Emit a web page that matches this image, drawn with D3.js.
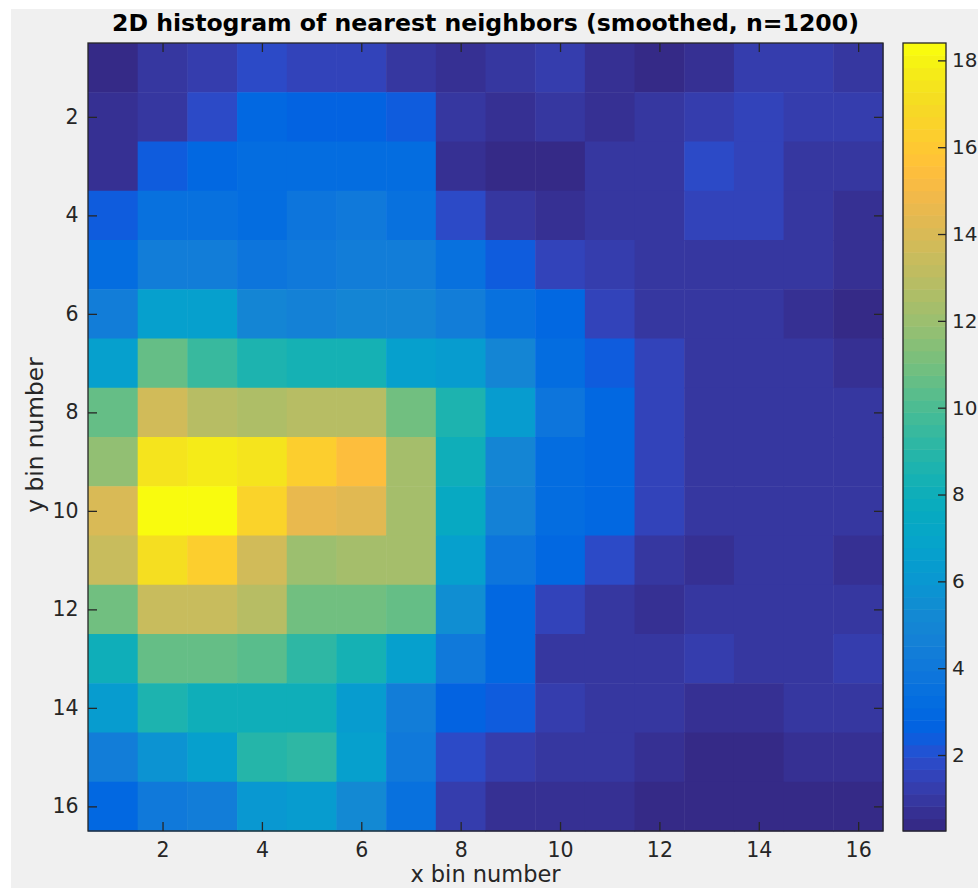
<!DOCTYPE html>
<html>
<head>
<meta charset="utf-8">
<script src="https://cdn.jsdelivr.net/npm/d3@7"></script>
<style>
  html, body { margin: 0; padding: 0; background: #ffffff; }
  svg { display: block; }
  text { font-family: "DejaVu Sans", sans-serif; }
</style>
</head>
<body>
<svg id="chart" width="978" height="888"></svg>
<script>
// Bin indices along each axis
const xBins = d3.range(1, 17);
const yBins = d3.range(1, 17);

// Smoothed neighbour counts, one array per y bin (row 1 at the top)
const row01 = [0.5, 0.9, 1.3, 1.9, 1.6, 1.4, 1.1, 0.8, 0.85, 1.3, 0.7, 0.4, 0.6, 1.2, 1.2, 0.9];
const row02 = [0.6, 1.1, 1.9, 3.0, 2.7, 2.7, 2.4, 0.9, 0.6, 1.0, 0.6, 1.0, 1.25, 1.5, 1.2, 1.2];
const row03 = [0.8, 2.4, 3.0, 3.1, 3.2, 3.2, 3.1, 0.8, 0.35, 0.35, 0.85, 1.0, 1.7, 1.4, 0.9, 1.0];
const row04 = [2.4, 3.4, 3.4, 3.1, 3.7, 4.0, 3.6, 1.9, 1.0, 0.7, 0.85, 0.85, 1.4, 1.4, 1.0, 0.75];
const row05 = [3.3, 4.5, 4.5, 3.8, 4.1, 4.3, 4.3, 3.5, 2.4, 1.6, 1.35, 0.85, 0.85, 0.85, 0.9, 0.8];
const row06 = [4.5, 6.5, 6.5, 5.0, 4.6, 4.9, 4.9, 4.4, 3.6, 3.0, 1.6, 1.05, 0.9, 0.9, 0.6, 0.35];
const row07 = [6.5, 10.5, 9.6, 8.5, 8.3, 8.3, 6.7, 6.3, 4.9, 3.3, 2.4, 1.4, 1.05, 0.9, 0.9, 0.7];
const row08 = [10.5, 13.6, 13.0, 12.6, 13.0, 13.0, 11.0, 8.6, 6.3, 3.7, 2.9, 1.5, 0.9, 0.9, 1.05, 0.9];
const row09 = [11.7, 17.4, 17.8, 17.4, 16.3, 15.3, 12.4, 8.0, 4.9, 3.1, 2.9, 1.5, 0.9, 0.9, 0.9, 0.9];
const row10 = [14.1, 18.4, 18.4, 16.6, 14.5, 14.2, 12.3, 7.4, 4.6, 3.1, 2.9, 1.5, 1.05, 0.85, 1.1, 0.95];
const row11 = [13.5, 17.1, 16.3, 13.7, 12.0, 12.4, 12.4, 6.6, 3.7, 3.0, 1.9, 0.9, 0.55, 0.85, 0.85, 0.7];
const row12 = [11.0, 13.4, 13.4, 12.8, 11.0, 10.8, 10.6, 5.6, 3.0, 1.6, 0.85, 0.6, 0.9, 0.9, 0.9, 0.9];
const row13 = [8.0, 10.7, 10.7, 10.4, 9.1, 8.4, 6.7, 4.2, 3.0, 1.1, 0.85, 0.85, 1.3, 0.9, 0.9, 1.25];
const row14 = [6.3, 8.7, 8.0, 8.0, 8.0, 6.3, 4.3, 2.8, 2.4, 1.2, 1.05, 0.9, 0.6, 0.6, 1.0, 1.0];
const row15 = [4.4, 5.9, 6.5, 9.0, 9.2, 6.5, 4.0, 1.9, 1.35, 1.05, 1.05, 0.7, 0.35, 0.35, 0.7, 0.7];
const row16 = [3.0, 4.0, 4.3, 6.0, 6.4, 5.1, 3.5, 1.2, 0.8, 0.8, 0.6, 0.4, 0.4, 0.4, 0.35, 0.35];
const counts = [row01, row02, row03, row04, row05, row06, row07, row08,
                row09, row10, row11, row12, row13, row14, row15, row16];

// Colour limits and tick labels
const colorLimits = [0.25, 18.4];
const axisTicks = [2, 4, 6, 8, 10, 12, 14, 16];
const colorbarTicks = [2, 4, 6, 8, 10, 12, 14, 16, 18];

const titleText = "2D histogram of nearest neighbors (smoothed, n=1200)";
const xLabelText = "x bin number";
const yLabelText = "y bin number";

// 64-level parula colormap
const parula = [
  [0.2081,0.1663,0.5292],[0.2116,0.1898,0.5777],[0.2123,0.2138,0.6270],[0.2081,0.2386,0.6771],
  [0.1959,0.2645,0.7279],[0.1707,0.2919,0.7792],[0.1253,0.3242,0.8303],[0.0591,0.3598,0.8683],
  [0.0117,0.3875,0.8820],[0.0060,0.4086,0.8828],[0.0165,0.4266,0.8786],[0.0329,0.4430,0.8720],
  [0.0498,0.4586,0.8641],[0.0629,0.4737,0.8554],[0.0723,0.4887,0.8467],[0.0779,0.5040,0.8384],
  [0.0793,0.5200,0.8312],[0.0749,0.5375,0.8263],[0.0641,0.5570,0.8240],[0.0488,0.5772,0.8228],
  [0.0343,0.5966,0.8199],[0.0265,0.6137,0.8135],[0.0239,0.6287,0.8038],[0.0231,0.6418,0.7913],
  [0.0228,0.6535,0.7768],[0.0267,0.6642,0.7607],[0.0384,0.6743,0.7436],[0.0590,0.6838,0.7254],
  [0.0843,0.6928,0.7062],[0.1133,0.7015,0.6859],[0.1453,0.7098,0.6646],[0.1801,0.7177,0.6424],
  [0.2178,0.7250,0.6193],[0.2586,0.7317,0.5954],[0.3022,0.7376,0.5712],[0.3482,0.7424,0.5473],
  [0.3953,0.7459,0.5244],[0.4420,0.7481,0.5033],[0.4871,0.7491,0.4840],[0.5300,0.7491,0.4661],
  [0.5709,0.7485,0.4494],[0.6099,0.7473,0.4337],[0.6473,0.7456,0.4188],[0.6834,0.7435,0.4044],
  [0.7184,0.7411,0.3905],[0.7525,0.7384,0.3768],[0.7858,0.7356,0.3633],[0.8185,0.7327,0.3498],
  [0.8507,0.7299,0.3360],[0.8824,0.7274,0.3217],[0.9139,0.7258,0.3063],[0.9450,0.7261,0.2886],
  [0.9739,0.7314,0.2666],[0.9938,0.7455,0.2403],[0.9990,0.7653,0.2164],[0.9955,0.7861,0.1967],
  [0.9880,0.8066,0.1794],[0.9789,0.8271,0.1633],[0.9697,0.8481,0.1475],[0.9626,0.8705,0.1309],
  [0.9589,0.8949,0.1132],[0.9598,0.9218,0.0948],[0.9661,0.9514,0.0755],[0.9763,0.9831,0.0538]
].map(c => d3.rgb(c[0] * 255, c[1] * 255, c[2] * 255).formatHex());

// Layout
const W = 978, H = 888;
const plot = { left: 88, right: 883, top: 43, bottom: 831 };
const cbar = { left: 903, right: 946, top: 43, bottom: 831 };
const ink = "#262626";

const svg = d3.select("#chart");

// Figure background
svg.append("rect").attr("x", 0).attr("y", 0).attr("width", W).attr("height", H).attr("fill", "#ffffff");
svg.append("rect").attr("x", 11).attr("y", 9).attr("width", W - 11).attr("height", H - 9).attr("fill", "#f0f0f0");

const x = d3.scaleLinear().domain([0.5, 16.5]).range([plot.left, plot.right]);
const y = d3.scaleLinear().domain([0.5, 16.5]).range([plot.top, plot.bottom]);
const color = d3.scaleQuantize().domain(colorLimits).range(parula);
const colorOf = v => color(Math.max(colorLimits[0], Math.min(colorLimits[1], v)));

// Heatmap cells
const cells = [];
yBins.forEach((yb, r) => xBins.forEach((xb, c) => cells.push({ xb, yb, v: counts[r][c] })));

svg.append("g")
  .selectAll("rect")
  .data(cells)
  .join("rect")
  .attr("x", d => x(d.xb - 0.5))
  .attr("y", d => y(d.yb - 0.5))
  .attr("width", d => x(d.xb + 0.5) - x(d.xb - 0.5) + 0.5)
  .attr("height", d => y(d.yb + 0.5) - y(d.yb - 0.5) + 0.5)
  .attr("fill", d => colorOf(d.v));

// Axes with inward ticks on all four sides
function styleAxis(g, fontSize) {
  g.select(".domain").remove();
  g.selectAll(".tick line").attr("stroke", ink).attr("stroke-width", 1.3);
  g.selectAll(".tick text").attr("fill", ink).style("font-size", fontSize + "px")
    .style("font-family", "DejaVu Sans, sans-serif");
}

svg.append("g")
  .attr("transform", `translate(0,${plot.bottom})`)
  .call(d3.axisBottom(x).tickValues(axisTicks).tickSizeInner(-9).tickSizeOuter(0).tickPadding(11))
  .call(g => styleAxis(g, 20.5));

svg.append("g")
  .attr("transform", `translate(0,${plot.top})`)
  .call(d3.axisTop(x).tickValues(axisTicks).tickSizeInner(-9).tickSizeOuter(0).tickFormat(""))
  .call(g => styleAxis(g, 20.5));

svg.append("g")
  .attr("transform", `translate(${plot.left},0)`)
  .call(d3.axisLeft(y).tickValues(axisTicks).tickSizeInner(-9).tickSizeOuter(0).tickPadding(9.5))
  .call(g => styleAxis(g, 20.5));

svg.append("g")
  .attr("transform", `translate(${plot.right},0)`)
  .call(d3.axisRight(y).tickValues(axisTicks).tickSizeInner(-9).tickSizeOuter(0).tickFormat(""))
  .call(g => styleAxis(g, 20.5));

// Axes box
svg.append("rect")
  .attr("x", plot.left).attr("y", plot.top)
  .attr("width", plot.right - plot.left).attr("height", plot.bottom - plot.top)
  .attr("fill", "none").attr("stroke", ink).attr("stroke-width", 1.3);

// Colorbar: one band per colormap level
const cScale = d3.scaleLinear().domain(colorLimits).range([cbar.bottom, cbar.top]);
const levels = parula.map(col => {
  const [a, b] = color.invertExtent(col);
  return { col, a, b };
});
svg.append("g")
  .selectAll("rect")
  .data(levels)
  .join("rect")
  .attr("x", cbar.left)
  .attr("y", d => cScale(d.b))
  .attr("width", cbar.right - cbar.left)
  .attr("height", d => cScale(d.a) - cScale(d.b) + 0.5)
  .attr("fill", d => d.col);

svg.append("g")
  .attr("transform", `translate(${cbar.right},0)`)
  .call(d3.axisRight(cScale).tickValues(colorbarTicks).tickSizeInner(-8).tickSizeOuter(0).tickPadding(6))
  .call(g => styleAxis(g, 20));

svg.append("rect")
  .attr("x", cbar.left).attr("y", cbar.top)
  .attr("width", cbar.right - cbar.left).attr("height", cbar.bottom - cbar.top)
  .attr("fill", "none").attr("stroke", ink).attr("stroke-width", 1.3);

// Title and axis labels
const midX = (plot.left + plot.right) / 2;
svg.append("text")
  .attr("x", midX).attr("y", 31)
  .attr("text-anchor", "middle")
  .attr("fill", "#000000")
  .style("font-size", "23.6px").style("font-weight", "bold")
  .text(titleText);

svg.append("text")
  .attr("x", midX).attr("y", 882)
  .attr("text-anchor", "middle")
  .attr("fill", ink)
  .style("font-size", "22.5px")
  .text(xLabelText);

svg.append("text")
  .attr("transform", `translate(43,${(plot.top + plot.bottom) / 2 - 2}) rotate(-90)`)
  .attr("text-anchor", "middle")
  .attr("fill", ink)
  .style("font-size", "23.3px")
  .text(yLabelText);
</script>
</body>
</html>
